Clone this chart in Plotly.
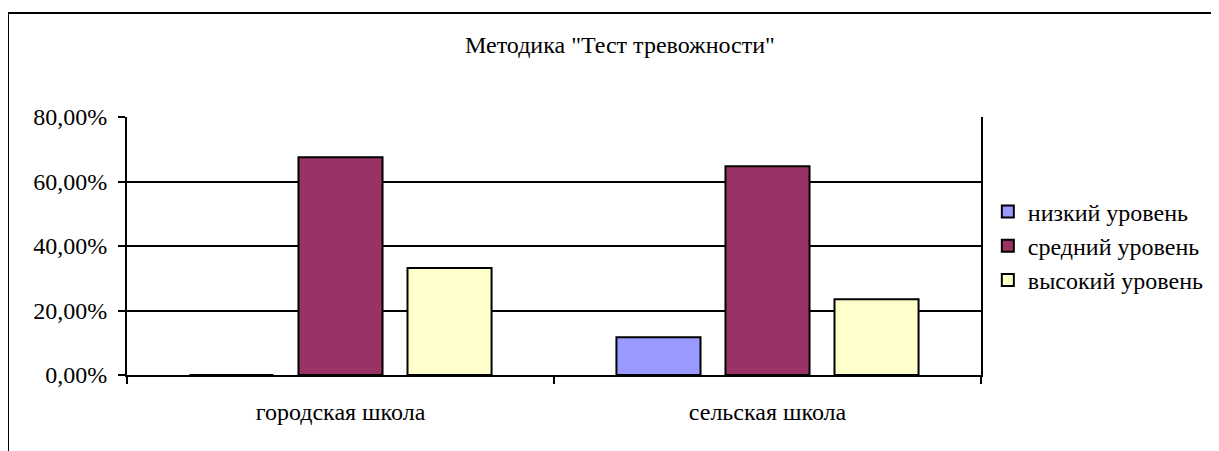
import plotly.graph_objects as go

categories = ["городская школа", "сельская школа"]
series_names = ["низкий уровень", "средний уровень", "высокий уровень"]
low_vals = [0.0, 0.117]
mid_vals = [0.675, 0.647]
high_vals = [0.332, 0.235]
colors = ["#9999FF", "#993366", "#FFFFCC"]
title_text = 'Методика "Тест тревожности"'
y_ticks = [0, 0.2, 0.4, 0.6, 0.8]

FONT = "Liberation Serif"
FS = 24

fig = go.Figure()
for name, vals, col in zip(series_names, [low_vals, mid_vals, high_vals], colors):
    fig.add_trace(go.Bar(
        x=categories, y=vals, name=name,
        marker=dict(color=col, line=dict(color="black", width=2)),
    ))

W, H = 1211, 443
L, T = 119, 109
PW, PH = 854, 258

fig.update_layout(
    width=W, height=H,
    margin=dict(l=L, r=W - L - PW, t=T, b=H - T - PH, pad=0, autoexpand=False),
    paper_bgcolor="white", plot_bgcolor="white",
    font=dict(family=FONT, size=FS, color="black"),
    separators=", ",
    barmode="group", bargap=0.234, bargroupgap=0.229,
    annotations=[dict(text=title_text, xref="paper", yref="paper",
                      x=(620 - 8 - L) / PW, y=1 + (T - (45 - 8)) / PH,
                      xanchor="center", yanchor="middle", showarrow=False)],
    legend=dict(x=1.008, xanchor="left", y=0.5, yanchor="middle",
                itemwidth=30, tracegroupgap=0, bgcolor="rgba(0,0,0,0)"),
    showlegend=True,
    shapes=[dict(type="rect", xref="paper", yref="paper",
                 x0=-L / PW, x1=1.5, y0=-0.5, y1=1 + (T - 5) / PH,
                 line=dict(color="black", width=2), fillcolor="rgba(0,0,0,0)", layer="below")],
)
fig.update_yaxes(range=[0, 0.8], tickvals=y_ticks, tickformat=".2%",
                 showgrid=True, gridcolor="black", gridwidth=2,
                 showline=True, linecolor="black", linewidth=2, mirror=True,
                 ticks="outside", ticklen=7, tickwidth=2, tickcolor="black",
                 ticklabelstandoff=6, zeroline=False, automargin=False)
fig.update_xaxes(showline=True, linecolor="black", linewidth=2,
                 ticks="outside", tickson="boundaries", ticklen=7, tickwidth=2,
                 tickcolor="black", ticklabelstandoff=14, showgrid=False, automargin=False)

fig.write_html("out.html")
